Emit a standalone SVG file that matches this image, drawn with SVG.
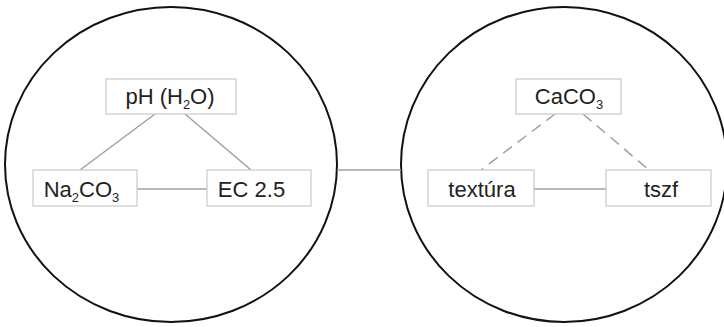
<svg xmlns="http://www.w3.org/2000/svg" width="724" height="327" viewBox="0 0 724 327">
<style>
.circle{fill:none;stroke:#111;stroke-width:2}
.box{fill:#fff;stroke:#c8c8c8;stroke-width:1.2}
.lbl{font-family:"Liberation Sans",Arial,sans-serif;font-size:22px;fill:#222;text-anchor:middle}
.sub{font-size:13px}
.link{stroke:#a0a0a0;stroke-width:1.5;fill:none}
.dash{stroke-dasharray:11 7}
</style>
<rect width="724" height="327" fill="#fff"/>
<g id="group-left">
<ellipse class="circle" cx="171" cy="164.5" rx="166" ry="157.5"/>
</g>
<g id="group-right">
<ellipse class="circle" cx="564" cy="164.5" rx="163" ry="157.5"/>
</g>
<g id="connectors">
<line class="link" x1="337" y1="170" x2="401" y2="170"/>
<line class="link" x1="155" y1="114" x2="80" y2="170"/>
<line class="link" x1="185" y1="114" x2="251" y2="170"/>
<line class="link" x1="137" y1="189" x2="207" y2="189"/>
<line class="link dash" x1="555" y1="114" x2="481" y2="170"/>
<line class="link dash" x1="583" y1="114" x2="649" y2="170"/>
<line class="link" x1="534" y1="189" x2="606" y2="189"/>
</g>
<g id="node-ph">
<rect class="box" x="106" y="79" width="130" height="35"/>
<text class="lbl" x="170" y="104">pH (H<tspan class="sub" dy="5">2</tspan><tspan dy="-5">O)</tspan></text>
</g>
<g id="node-na2co3">
<rect class="box" x="33" y="170" width="104" height="36"/>
<text class="lbl" x="81.5" y="197">Na<tspan class="sub" dy="5">2</tspan><tspan dy="-5">CO</tspan><tspan class="sub" dy="5">3</tspan></text>
</g>
<g id="node-ec">
<rect class="box" x="207" y="170" width="104" height="36"/>
<text class="lbl" x="251.5" y="197">EC 2.5</text>
</g>
<g id="node-caco3">
<rect class="box" x="516" y="79" width="105" height="35"/>
<text class="lbl" x="569" y="104">CaCO<tspan class="sub" dy="5">3</tspan></text>
</g>
<g id="node-textura">
<rect class="box" x="428" y="170" width="106" height="36"/>
<text class="lbl" x="482" y="197">textúra</text>
</g>
<g id="node-tszf">
<rect class="box" x="606" y="170" width="105" height="36"/>
<text class="lbl" x="661" y="197">tszf</text>
</g>
</svg>
